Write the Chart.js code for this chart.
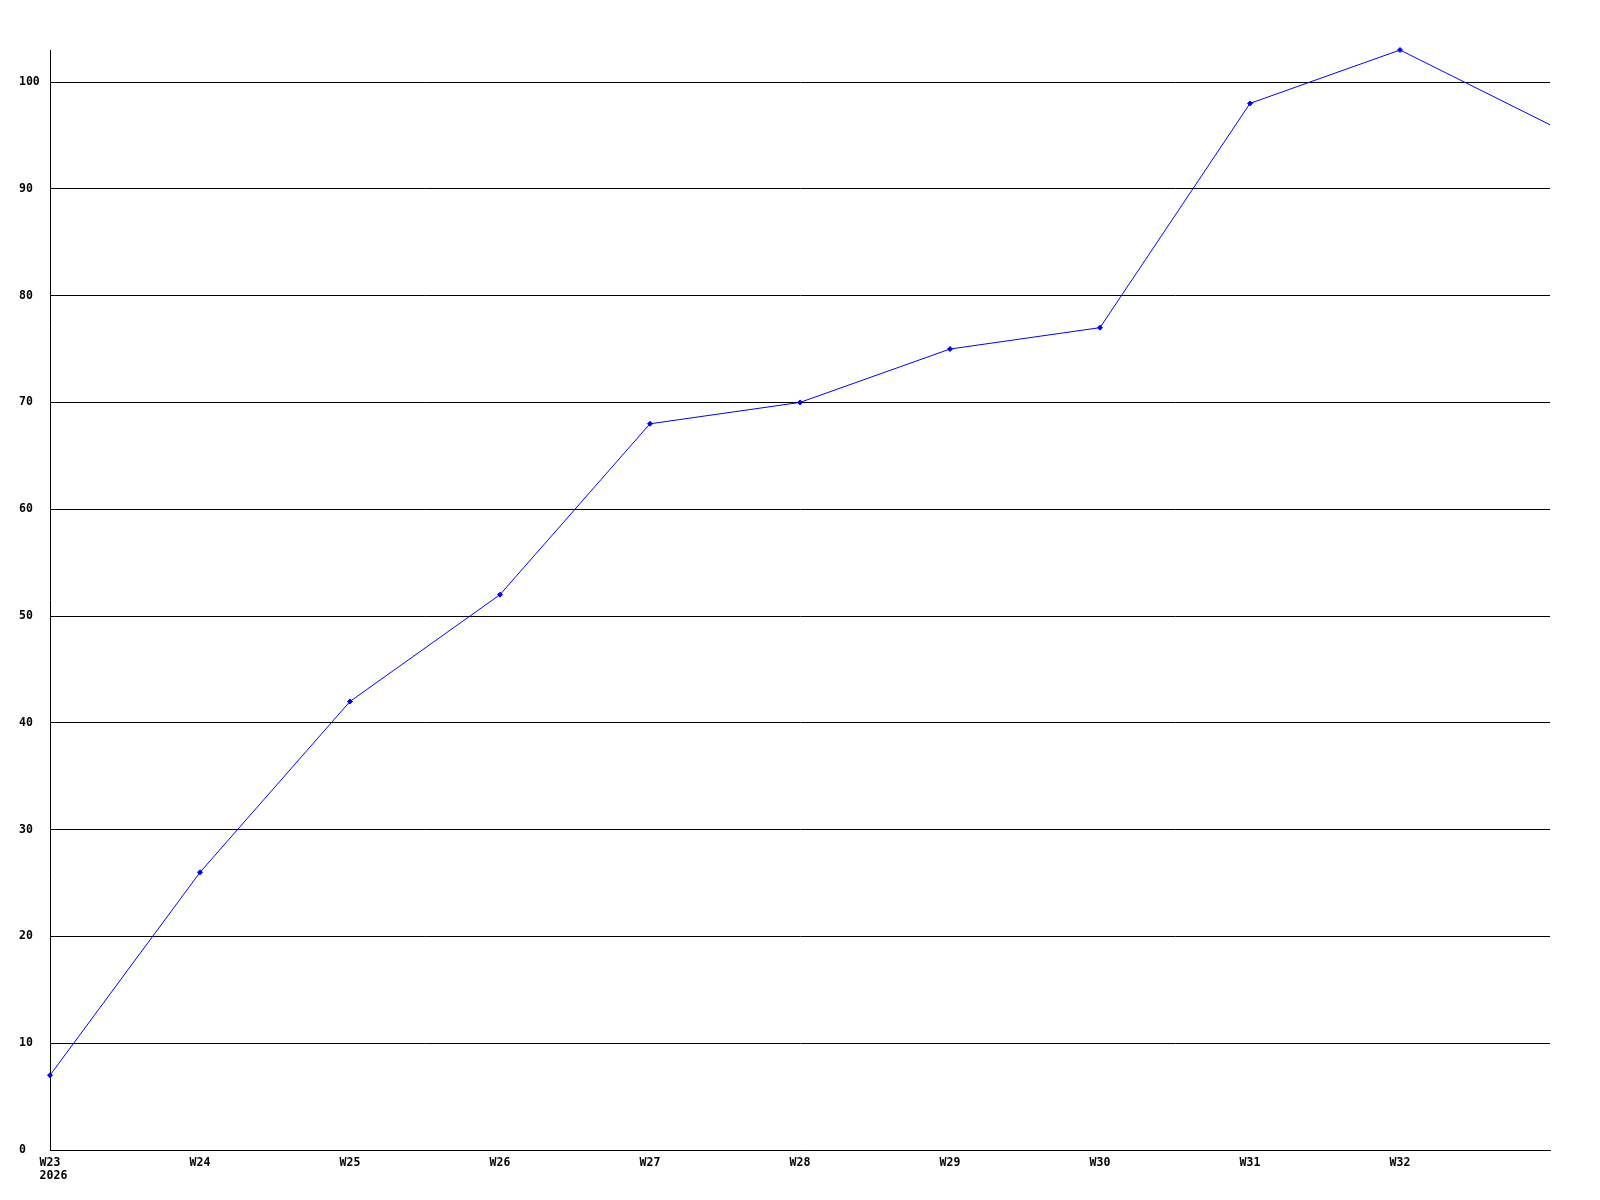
<!DOCTYPE html>
<html>
<head>
<meta charset="utf-8">
<script src="https://cdn.jsdelivr.net/npm/chart.js@4"></script>
<style>
  html, body { margin: 0; padding: 0; background: #fff; }
  canvas { display: block; }
</style>
</head>
<body>
<canvas id="chart" width="1600" height="1200"></canvas>
<script>
// 周标签（最后一个点不显示标签）
const weeks = ['W23', 'W24', 'W25', 'W26', 'W27', 'W28', 'W29', 'W30', 'W31', 'W32', 'W33']
const yearLabel = '2026'
const values = [7, 26, 42, 52, 68, 70, 75, 77, 98, 103, 96]
const yMax = 103
const yStep = 10

const tickFont = { family: '"DejaVu Sans Mono", monospace', size: 11.5, weight: 'bold' }

// 年份标签与第一个周标签左对齐
const yearPlugin = {
  id: 'yearLabel',
  afterDraw(chart) {
    const x = chart.scales.x
    const c = chart.ctx
    c.save()
    c.font = `${tickFont.weight} ${tickFont.size}px ${tickFont.family}`
    c.fillStyle = '#000'
    c.textAlign = 'left'
    c.textBaseline = 'top'
    const left = x.getPixelForValue(0) - c.measureText(weeks[0]).width / 2
    c.fillText(yearLabel, left, x.top + 20)
    c.restore()
  }
}

const ctx = document.getElementById('chart').getContext('2d')

new Chart(ctx, {
  type: 'line',
  data: {
    labels: weeks,
    datasets: [{
      data: values,
      borderColor: '#0000ff',
      borderWidth: 1,
      tension: 0,
      pointRadius: c => (c.dataIndex === values.length - 1 ? 0 : 2.5),
      pointStyle: 'rectRot',
      pointBackgroundColor: '#0000ff',
      pointBorderColor: '#0000ff',
      pointBorderWidth: 1,
      clip: false
    }]
  },
  options: {
    responsive: false,
    animation: false,
    layout: { padding: { top: 50, right: 50, left: 19, bottom: 0 } },
    plugins: {
      legend: { display: false },
      tooltip: { enabled: false }
    },
    scales: {
      x: {
        type: 'category',
        offset: false,
        grid: { display: false, drawTicks: false },
        border: { display: true, color: '#000', width: 1 },
        ticks: {
          color: '#000',
          font: tickFont,
          padding: 6,
          autoSkip: false,
          maxRotation: 0,
          callback: (v, i) => (i === weeks.length - 1 ? '' : weeks[i])
        },
        afterFit: s => { s.height = 50 }
      },
      y: {
        min: 0,
        max: yMax,
        grid: { color: '#000', lineWidth: 1, drawTicks: false },
        border: { display: true, color: '#000', width: 1 },
        ticks: {
          stepSize: yStep,
          color: '#000',
          font: tickFont,
          crossAlign: 'far'
        },
        afterBuildTicks: s => {
          s.ticks = s.ticks.filter(t => t.value % yStep === 0)
        },
        afterFit: s => { s.width = 31 }
      }
    }
  },
  plugins: [yearPlugin]
})
</script>
</body>
</html>
